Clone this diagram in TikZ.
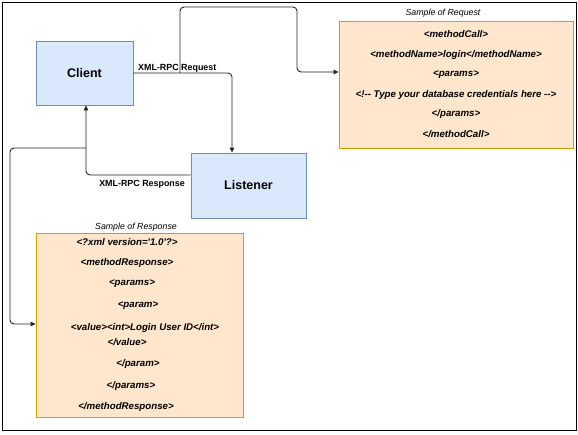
\documentclass[tikz,border=0pt]{standalone}
\usepackage{fontspec}
\setmainfont{Liberation Sans}
\newfontfamily\xmlfont{Liberation Sans}
\usetikzlibrary{arrows.meta}
\definecolor{bluefill}{HTML}{DAE8FC}
\definecolor{blueline}{HTML}{6C8EBF}
\definecolor{orangefill}{HTML}{FFE6CC}
\definecolor{orangeline}{HTML}{D79B00}
\definecolor{wire}{HTML}{222222}
\tikzset{
  bluebox/.style={draw=blueline, fill=bluefill, line width=0.8pt, font=\fontsize{12.5}{15}\selectfont\bfseries},
  orangebox/.style={draw=orangeline, fill=orangefill, line width=0.8pt},
  xmltxt/.style={font=\xmlfont\fontsize{9.7}{11}\selectfont\bfseries\itshape, inner sep=0pt, anchor=center},
  captxt/.style={font=\fontsize{8.8}{10}\selectfont\itshape, inner sep=0pt},
  lbl/.style={font=\fontsize{8.9}{10}\selectfont\bfseries, inner sep=0pt},
  wireline/.style={draw=wire, line width=0.9pt, rounded corners=4pt},
  arr/.style={-{Triangle[length=5pt,width=4.5pt]}}
}
\begin{document}
\begin{tikzpicture}[x=1pt,y=-1pt]
\useasboundingbox (0,0) rectangle (578,435);
\draw[line width=1.4pt] (2.5,2.5) rectangle (576.5,430.5);

% boxes
\node[bluebox, minimum width=97pt, minimum height=64pt] (client) at (84.5,73) {Client};
\node[bluebox, minimum width=115pt, minimum height=65pt] (listener) at (248.5,185.5) {Listener};
\node[orangebox, minimum width=234pt, minimum height=127pt] (req) at (456,84.5) {};
\node[orangebox, minimum width=207pt, minimum height=184pt] (resp) at (139.5,325) {};

% captions
\node[captxt] (reqcap) at (443,13) {Sample of Request};
\node[captxt] (respcap) at (136,227) {Sample of Response};

% request text
\node[xmltxt] (r1) at (456,34) {<methodCall>};
\node[xmltxt] (r2) at (456,55) {<methodName>login</methodName>};
\node[xmltxt] (r3) at (456,75) {<params>};
\node[xmltxt] (r4) at (456,95) {<!-- Type your database credentials here -->};
\node[xmltxt] (r5) at (456,114) {</params>};
\node[xmltxt] (r6) at (456,134) {</methodCall>};

% response text
\node[xmltxt] (s1) at (127,242) {<?xml version='1.0'?>};
\node[xmltxt] (s2) at (127,263) {<methodResponse>};
\node[xmltxt] (s3) at (132,284) {<params>};
\node[xmltxt] (s4) at (138,306) {<param>};
\node[xmltxt] (s5) at (145,328) {<value><int>Login User ID</int>};
\node[xmltxt] (s6) at (127,342) {</value>};
\node[xmltxt] (s7) at (138,364) {</param>};
\node[xmltxt] (s8) at (131,386) {</params>};
\node[xmltxt] (s9) at (126,407) {</methodResponse>};

% connectors
\coordinate (tap) at (180,73);
\coordinate (tap2) at (86,148);
\draw[wireline, arr] (client.east) -- (232,73) -- (232,153) -- (listener.north -| 232,153);
\draw[wireline, arr] (tap) -- (180,7) -- (297,7) -- (297,72) -- (req.west |- 0,72);
\draw[wireline, arr] (listener.west |- 0,175) -- (86,175) -- (client.south -| 86,0);
\draw[wireline, arr] (tap2) -- (10,148) -- (10,324) -- (resp.west |- 0,324);

% labels
\node[lbl, anchor=west] (lreq) at (138,68) {XML-RPC Request};
\node[lbl, anchor=east] (lresp) at (185,184) {XML-RPC Response};
\end{tikzpicture}
\end{document}
